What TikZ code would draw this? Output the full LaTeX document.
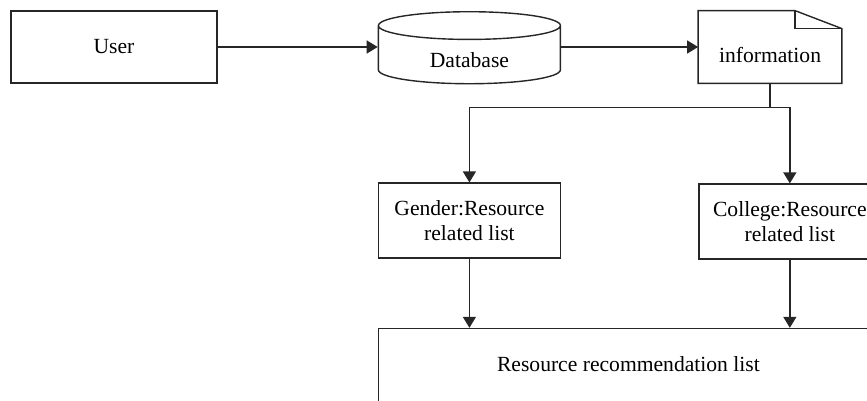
\documentclass[tikz,border=0pt]{standalone}
\usepackage{fontspec}
\setmainfont{Liberation Serif}
\usetikzlibrary{shapes.geometric, arrows.meta, positioning, calc}

\begin{document}
\begin{tikzpicture}[
    x=1pt, y=1pt,
    font=\fontsize{10.8}{12.5}\selectfont,
    block/.style={rectangle, draw=black!85, line width=0.7pt, text centered, minimum width=91pt, minimum height=37.5pt, inner sep=0pt},
    store/.style={cylinder, shape border rotate=90, aspect=0.35, draw=black!85, line width=0.7pt, minimum width=91pt, minimum height=36pt, inner sep=0pt},
    sheet/.style={rectangle, minimum width=71.5pt, minimum height=36pt, inner sep=0pt, text height=26pt, text depth=10pt},
    line/.style={draw=black!85, line width=0.7pt, -{Triangle[length=5.5pt,width=6.5pt]}}
]
    \clip (0,0) rectangle (433.5,-200.5);

    % Nodes
    \node[block, minimum width=103pt, minimum height=36pt] (user) at (57,-23.5) {User};
    \node[store, right=80pt of user, yshift=-4pt] (db) {\raisebox{-6pt}[0pt][0pt]{Database}};
    \node[sheet, right=68.5pt of user -| db.east] (info) {information};
    \node[block, align=center, below=49pt of db] (gender) {Gender:Resource\\related list};
    \node[block, align=center, below right=50pt and 0pt of info.south west] (college) {College:Resource\\related list};
    \node[block, minimum width=250pt, text height=21.5pt, text depth=38.5pt, below right=34.5pt and 0pt of gender.south west] (result) {Resource recommendation list};

    % Sheet outline with folded corner
    \draw[draw=black!85, line width=0.7pt] (info.north west) -- ($(info.north east)+(-23.5,0)$) -- ($(info.north east)+(0,-9)$) -- (info.south east) -- (info.south west) -- cycle;
    \draw[draw=black!85, line width=0.7pt] ($(info.north east)+(-23.5,0)$) |- ($(info.north east)+(0,-9)$);

    % Connections
    \path[line] (user) -- (user -| db.west);
    \path[line] (info -| db.east) -- (info);
    \path[line] (info.south) -- ++(0,-12) -| (gender.north);
    \path[line] (info.south) -- ++(0,-12) -| (college.north);
    \path[line] (gender) -- (gender |- result.north);
    \path[line] (college) -- (college |- result.north);
\end{tikzpicture}
\end{document}
